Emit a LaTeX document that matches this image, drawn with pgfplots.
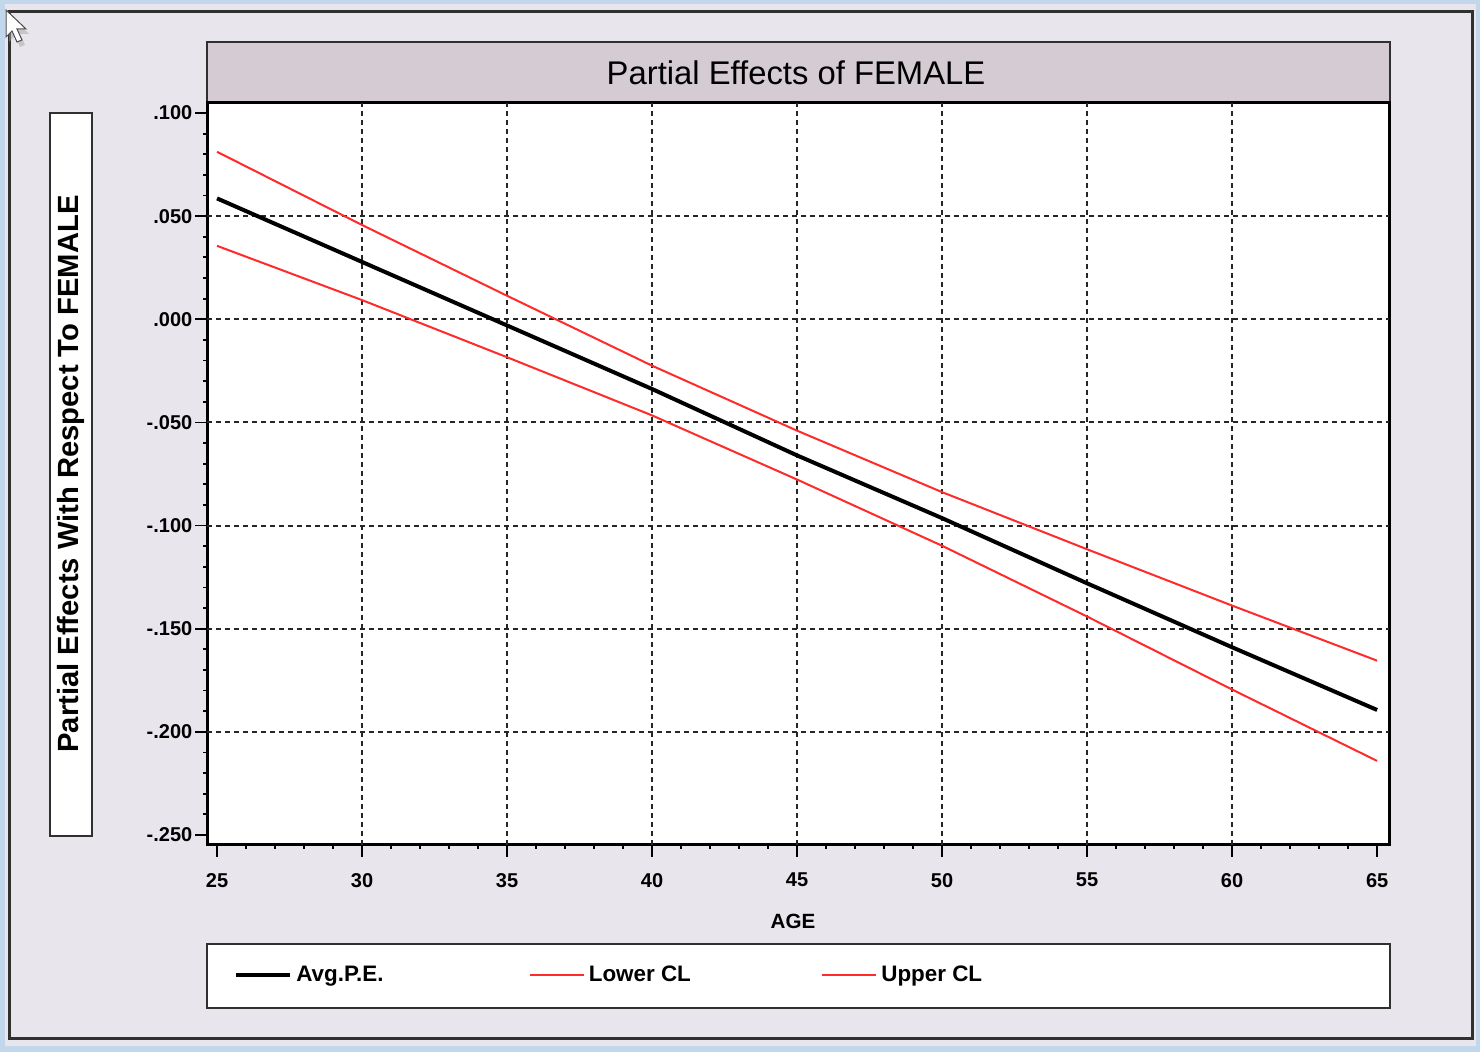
\documentclass[border=0pt]{standalone}
\usepackage{pgfplots}
\pgfplotsset{compat=1.18}
\usepackage{pgfplotstable}
\usepackage{fontspec}
\setmainfont{Liberation Sans}
\definecolor{bg}{HTML}{E8E5ED}
\definecolor{titlebg}{HTML}{D5CBD3}
\definecolor{winblue}{HTML}{C2D6EC}
\definecolor{framec}{HTML}{303030}
\definecolor{clred}{HTML}{FF2A2A}

\pgfplotstableread{
age  pe       lo       up
25   0.0586   0.0356   0.0812
30   0.0278   0.0093   0.0457
35  -0.0030  -0.0184   0.0114
40  -0.0338  -0.0466  -0.0225
45  -0.0660  -0.0777  -0.0540
50  -0.0964  -0.1098  -0.0838
55  -0.1280  -0.1441  -0.1115
60  -0.1590  -0.1795  -0.1388
65  -0.1894  -0.2141  -0.1655
}\pedata

\begin{document}
\begin{tikzpicture}[x=0.5pt,y=0.5pt]
% window background
\fill[bg] (0,0) rectangle (1480,1052);
\fill[winblue] (0,0) rectangle (1480,6);
\fill[winblue] (0,1048) rectangle (1480,1052);
\fill[winblue] (0,0) rectangle (5,1052);
\fill[winblue] (1476,0) rectangle (1480,1052);
\draw[framec, line width=1.5pt] (9,13) rectangle (1472,1040);
% mouse pointer
\fill[black!35, opacity=0.5] (9,1038) -- (9,1010) -- (15,1016) -- (20,1005) -- (25,1007) -- (20,1018) -- (29,1018) -- cycle;
\draw[black!70, fill=white, line width=0.5pt] (6,1042) -- (6,1015) -- (12,1021) -- (17,1010) -- (22,1012) -- (17,1023) -- (26,1023) -- cycle;
% title box
\draw[framec, fill=titlebg, line width=1pt] (207,949) rectangle (1390,1010);
\node[font=\fontsize{16.4}{18}\selectfont] at (796,979) {Partial Effects of FEMALE};
% y label box
\draw[framec, fill=white, line width=1pt] (50,216) rectangle (92,939);
\node[rotate=90, font=\fontsize{14.6}{16}\selectfont\bfseries] at (71,578) {Partial Effects With Respect To FEMALE};
% legend box
\draw[framec, fill=white, line width=1pt] (207,44) rectangle (1390,108);
% x label
\node[font=\fontsize{10.3}{12}\selectfont\bfseries] at (793,131) {AGE};

\begin{axis}[
  at={(103.5pt,103.5pt)}, anchor=south west,
  scale only axis, width=591pt, height=371pt,
  xmin=24.655, xmax=65.41, ymin=-0.25485, ymax=0.10485,
  xtick={25,30,35,40,45,50,55,60,65},
  ytick={-0.25,-0.2,-0.15,-0.1,-0.05,0,0.05,0.1},
  yticklabels={\textbf{-.250},\textbf{-.200},\textbf{-.150},\textbf{-.100},\textbf{-.050},\textbf{.000},\textbf{.050},\textbf{.100}},
  xticklabels={\textbf{25},\textbf{30},\textbf{35},\textbf{40},\textbf{45},\textbf{50},\textbf{55},\textbf{60},\textbf{65}},
  extra x ticks={30,35,40,45,50,55,60},
  extra y ticks={-0.2,-0.15,-0.1,-0.05,0,0.05},
  extra x tick labels={}, extra y tick labels={},
  extra tick style={grid=major, major tick length=0pt},
  minor x tick num=4, minor y tick num=4,
  tick align=outside, xtick pos=left, ytick pos=left,
  major tick length=6pt, minor tick length=2pt,
  every tick/.style={black, line width=0.9pt},
  major grid style={black!85, line width=1pt, dash pattern=on 2.5pt off 2pt},
  axis line style={line width=1.5pt},
  axis background/.style={fill=white},
  ticklabel style={font=\fontsize{10}{12}\selectfont\bfseries},
  x tick label style={yshift=-4.5pt},
  y tick label style={xshift=2.2pt},
  legend columns=3,
  legend style={draw=none, fill=none, at={(0.0228,-0.1752)}, anchor=west,
    inner sep=0pt, nodes={inner sep=0pt},
    font=\fontsize{11.2}{13}\selectfont\bfseries,
    /tikz/every odd column/.style={column sep=2pt}},
  legend image code/.code={\draw[#1] (0pt,0pt) -- (27pt,0pt);},
]
\addplot[black, line width=2pt] table[x=age, y=pe] {\pedata};
\addlegendentry{\makebox[116.25pt][l]{Avg.P.E.}}
\addplot[clred, line width=1pt] table[x=age, y=lo] {\pedata};
\addlegendentry{\makebox[116.25pt][l]{Lower CL}}
\addplot[clred, line width=1pt] table[x=age, y=up] {\pedata};
\addlegendentry{Upper CL}
\end{axis}
\end{tikzpicture}
\end{document}
